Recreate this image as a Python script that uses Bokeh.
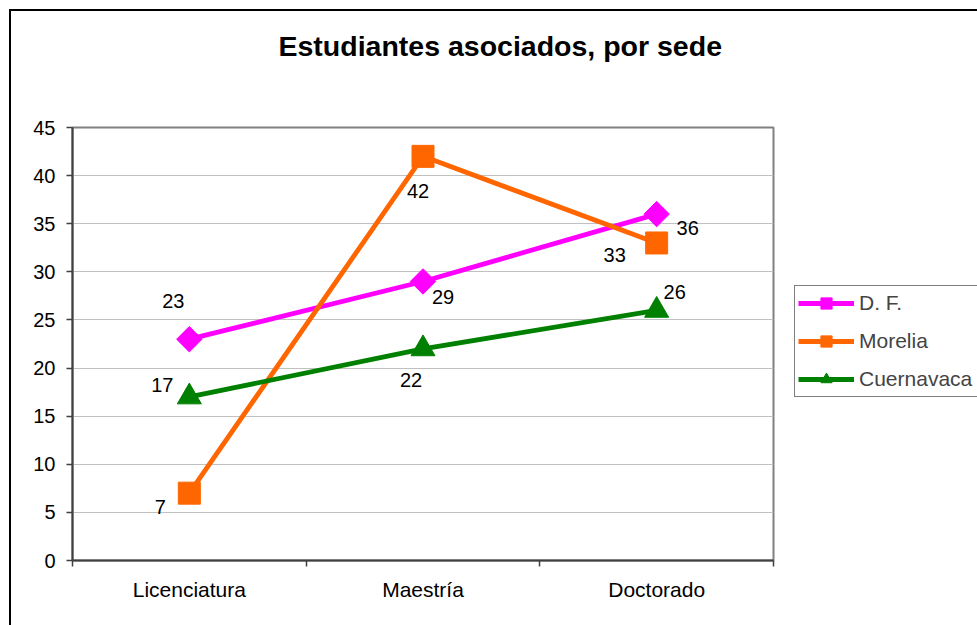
from bokeh.plotting import figure
from bokeh.models import FixedTicker, Legend, LegendItem, Title, ColumnDataSource, Range1d
from bokeh.embed import file_html
from bokeh.resources import INLINE
from bokeh.core.properties import value
import math

categories = ["Licenciatura", "Maestría", "Doctorado"]
series_names = ["D. F.", "Morelia", "Cuernavaca"]
df_vals = [23, 29, 36]
morelia_vals = [7, 42, 33]
cuernavaca_vals = [17, 22, 26]
y_ticks = [0, 5, 10, 15, 20, 25, 30, 35, 40, 45]
title_text = "Estudiantes asociados, por sede"

FONT = "Liberation Sans"
colors = ["#FF00FF", "#FF6600", "#008000"]
markers = ["square", "square", "triangle"]
marker_sizes = [18, 22, 24]
marker_angles = [math.pi / 4, 0, 0]
# label offsets in screen pixels (dx, dy) per point
label_offsets = [
    [(-16, -38), (20, 16), (31, 14)],
    [(-29, 14), (-5, 35), (-42, 12)],
    [(-27, -12), (-12, 31), (18, -18)],
]

xs = [i + 0.5 for i in range(len(categories))]

p = figure(frame_width=701, frame_height=433,
           min_border_left=61, min_border_right=204,
           min_border_top=116, min_border_bottom=65,
           x_range=Range1d(0, len(categories)), y_range=Range1d(0, 45),
           output_backend="svg", toolbar_location=None,
           background_fill_color="white", border_fill_color="white")
p.styles = {"border-left": "2px solid black", "border-top": "2px solid black",
            "margin-left": "9px", "margin-top": "9px"}

p.outline_line_color = "#808080"
p.outline_line_width = 2
p.xgrid.grid_line_color = None
p.ygrid.grid_line_color = "#C0C0C0"
p.ygrid.grid_line_width = 1
p.ygrid.ticker = FixedTicker(ticks=y_ticks)

xa = p.xaxis[0]
xa.ticker = FixedTicker(ticks=xs, minor_ticks=list(range(len(categories) + 1)))
xa.major_label_overrides = {x: c for x, c in zip(xs, categories)}
xa.major_tick_line_color = None
xa.major_tick_out = 0
xa.major_tick_in = 0
xa.minor_tick_out = 6
xa.minor_tick_in = 0
xa.minor_tick_line_color = "#404040"
xa.minor_tick_line_width = 1.5
xa.axis_line_color = "#404040"
xa.axis_line_width = 2
xa.major_label_standoff = 11
xa.major_label_text_font = FONT
xa.major_label_text_font_size = "21px"
xa.major_label_text_color = "black"

ya = p.yaxis[0]
ya.ticker = FixedTicker(ticks=y_ticks)
ya.major_tick_out = 6
ya.major_tick_in = 0
ya.major_tick_line_color = "#404040"
ya.major_tick_line_width = 1.5
ya.minor_tick_line_color = None
ya.axis_line_color = "#404040"
ya.axis_line_width = 2
ya.major_label_standoff = 11
ya.major_label_text_font = FONT
ya.major_label_text_font_size = "20px"
ya.major_label_text_color = "black"

items = []
for name, vals, col, mk, ms, ang, offs in zip(series_names,
                                              [df_vals, morelia_vals, cuernavaca_vals],
                                              colors, markers, marker_sizes, marker_angles,
                                              label_offsets):
    src = ColumnDataSource(dict(x=xs, y=vals, t=[str(v) for v in vals],
                                dx=[o[0] for o in offs], dy=[o[1] for o in offs]))
    ln = p.line("x", "y", source=src, line_color=col, line_width=4.8)
    sc = p.scatter("x", "y", source=src, marker=mk, size=ms, angle=ang,
                   fill_color=col, line_color=col)
    p.text("x", "y", text="t", source=src, x_offset="dx", y_offset="dy",
           text_font=value(FONT), text_font_size="20px", text_color="black",
           text_align="center", text_baseline="middle")
    items.append(LegendItem(label=name, renderers=[ln, sc]))

legend = Legend(items=items, location=(21, 163), margin=0,
                padding=3, spacing=10, glyph_height=28, glyph_width=56,
                label_standoff=5, label_width=118, label_height=28,
                label_text_font=FONT, label_text_font_size="21px",
                border_line_color="black", border_line_width=1,
                background_fill_color="white", background_fill_alpha=1)
p.add_layout(legend, "right")

# empty spacer between the frame and the title, to lift the title
spacer = Title(text=" ", text_font_size="1px", standoff=58)
p.add_layout(spacer, "above")
title = Title(text=title_text, align="left", offset=206, vertical_align="bottom",
              standoff=10, text_font=FONT, text_font_size="28.5px",
              text_font_style="bold", text_color="black")
p.add_layout(title, "above")

open("out.html", "w").write(file_html(p, INLINE))
